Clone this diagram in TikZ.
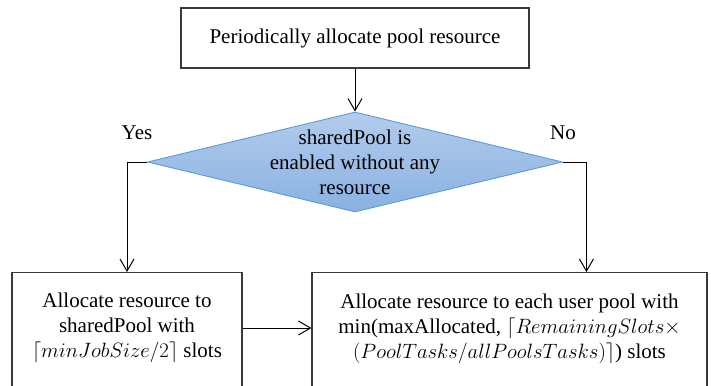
\documentclass[tikz,border=0pt]{standalone}
\usepackage{fontspec}
\setmainfont{Liberation Serif}
\newfontfamily\serifx{Liberation Serif}
\usetikzlibrary{shapes.geometric,arrows.meta,calc}
\definecolor{boxline}{HTML}{3A3A3A}
\definecolor{dtop}{HTML}{B2CCEC}
\definecolor{dbot}{HTML}{8AB1E1}
\definecolor{dline}{HTML}{5B9BD5}
\tikzset{
  box/.style={draw=boxline, line width=1.1pt, rectangle, inner sep=0pt},
  txt/.style={align=center, inner sep=0pt, font=\serifx\fontsize{21}{25}\selectfont},
  arr/.style={draw=black, line width=1pt, -{Straight Barb[length=12pt,width=14pt,line width=1pt]}},
  decision/.style={diamond, draw=dline, line width=0.9pt, top color=dtop, bottom color=dbot, inner sep=0pt},
}
\begin{document}
\begin{tikzpicture}[x=1pt,y=-1pt]
\useasboundingbox (0,0) rectangle (711,385);
\clip (0,0) rectangle (711,385);
\node[box, minimum width=348, minimum height=60] (T) at (355,38) {};
\node[txt] (Tt) at (355,38) {Periodically allocate pool resource};
\node[decision, minimum width=415, minimum height=100] (D) at (355,162) {};
\node[txt] (Dt) at (355,162) {sharedPool is\\enabled without any\\resource};
\node[box, minimum width=230, minimum height=124, anchor=north] (L) at (127,272) {};
\node[txt] (Lt) at (127,328) {Allocate resource to\\sharedPool with\\$\lceil minJobSize/2\rceil$ slots};
\node[box, minimum width=395, minimum height=124, anchor=north] (R) at (509.5,272) {};
\node[txt] (Rt) at (509.5,329) {Allocate resource to each user pool with\\min(maxAllocated, $\lceil RemainingSlots\times$\\$(PoolTasks/allPoolsTasks)\rceil$) slots};
\node[txt] (yes) at (137,133) {Yes};
\node[txt] (no) at (563,133) {No};
\draw[arr] (T) -- (D);
\draw[arr] (D.west) -| (L.north);
\draw[arr] (D.east) -| ($(R.north west)+(275,0)$);
\draw[arr] (L.east |- Lt) -- (R.west |- Lt);
\end{tikzpicture}
\end{document}
